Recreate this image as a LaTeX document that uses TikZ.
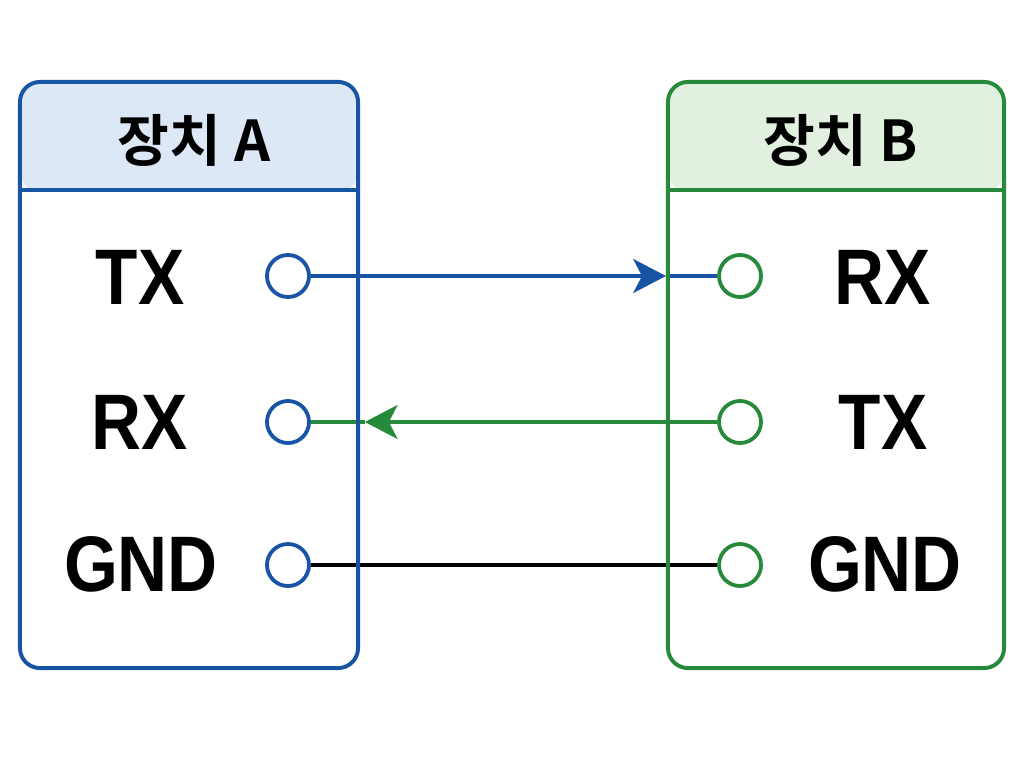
\documentclass[tikz,border=0pt]{standalone}
\usepackage{fontspec}
\setmainfont{Liberation Sans}
\newfontfamily\krfont{Noto Sans CJK KR}[BoldFont={* Bold}]
\newfontfamily\pinfont{Liberation Sans}[FakeStretch=0.88]
\usepackage{tikz}
\usetikzlibrary{positioning,calc,arrows.meta,backgrounds}

\definecolor{blueA}{RGB}{24,84,164}
\definecolor{greenB}{RGB}{38,138,58}
\definecolor{hdrA}{RGB}{220,232,246}
\definecolor{hdrB}{RGB}{226,240,224}

\begin{document}
\begin{tikzpicture}[
  x=0.025cm, y=-0.025cm,
  dev/.style    = {line width=2.8pt, rounded corners=0.5cm,
                   minimum width=8.45cm, minimum height=14.65cm, inner sep=0pt},
  devA/.style   = {dev, draw=blueA, path picture={\fill[hdrA]
                   (path picture bounding box.north west) rectangle
                   ([yshift=-2.75cm]path picture bounding box.north east);}},
  devB/.style   = {dev, draw=greenB, minimum width=8.4cm, path picture={\fill[hdrB]
                   (path picture bounding box.north west) rectangle
                   ([yshift=-2.75cm]path picture bounding box.north east);}},
  title/.style  = {font=\krfont\bfseries\fontsize{40}{44}\selectfont, inner sep=0pt},
  pinlbl/.style = {font=\pinfont\bfseries\fontsize{56}{60}\selectfont, inner sep=0pt},
  pin/.style    = {circle, line width=2.7pt, fill=white,
                   minimum size=1.05cm, inner sep=0pt},
  pinA/.style   = {pin, draw=blueA},
  pinB/.style   = {pin, draw=greenB},
  tip/.style    = {-{Stealth[length=0.82cm, width=0.85cm, inset=0.22cm]}},
  wire/.style   = {line width=2.2pt},
]
\useasboundingbox (0,0) rectangle (1024,768);

% devices
\node[devA] (devA) at (189,375) {};
\node[devB] (devB) at (836,375) {};
\draw[blueA, line width=2.8pt] ([yshift=-2.75cm]devA.north west) -- ([yshift=-2.75cm]devA.north east);
\draw[greenB, line width=2.8pt] ([yshift=-2.75cm]devB.north west) -- ([yshift=-2.75cm]devB.north east);
\node[title] (titleA) at (194,140) {장치 A};
\node[title] (titleB) at (841,140) {장치 B};

% pins of A
\node[pinlbl] (lTxA)  at (140,277) {TX};
\node[pinlbl] (lRxA)  at (140,422) {RX};
\node[pinlbl] (lGndA) at (141,564) {GND};
\node[pinA] (pTxA)  at (288,276) {};
\node[pinA] (pRxA)  at (288,422) {};
\node[pinA] (pGndA) at (288,565) {};

% pins of B
\node[pinlbl] (lRxB)  at (883,277) {RX};
\node[pinlbl] (lTxB)  at (883,422) {TX};
\node[pinlbl] (lGndB) at (885,564) {GND};
\node[pinB] (pRxB)  at (740,276) {};
\node[pinB] (pTxB)  at (740,422) {};
\node[pinB] (pGndB) at (740,565) {};

% wires
\begin{scope}[on background layer]
\coordinate (arrB) at (devB.west |- pRxB);
\coordinate (arrA) at ([xshift=0.12cm]devA.east |- pRxA);
\draw[wire, blueA, tip] (pTxA) -- (arrB);
\draw[wire, blueA] (arrB) -- (pRxB);
\draw[wire, greenB, tip] (pTxB) -- (arrA);
\draw[wire, greenB] (arrA) -- (pRxA);
\draw[wire, black] (pGndA) -- (pGndB);
\end{scope}
\end{tikzpicture}
\end{document}
